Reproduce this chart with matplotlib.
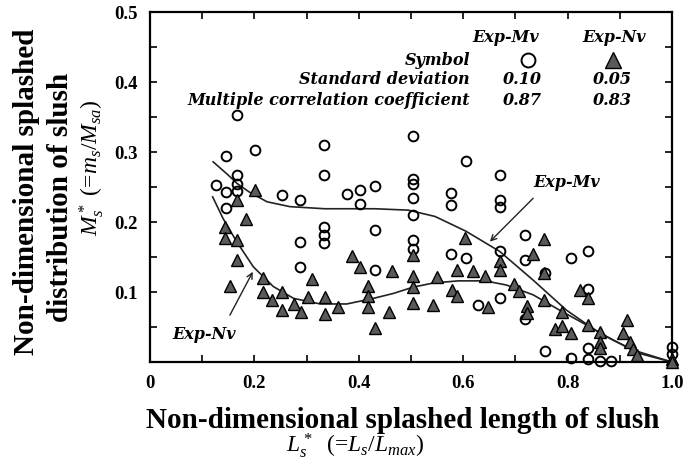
import matplotlib.pyplot as plt
import numpy as np

plt.rcParams['font.family'] = ['Liberation Serif', 'DejaVu Serif']
plt.rcParams['mathtext.fontset'] = 'custom'
plt.rcParams['mathtext.it'] = 'Liberation Serif:italic'
plt.rcParams['mathtext.rm'] = 'Liberation Serif'

# Exp-Mv (open circles), x = L_s*, y = M_s*
mv_x = [0.126, 0.145, 0.145, 0.145, 0.167, 0.167, 0.167, 0.167, 0.201, 0.252,
        0.287, 0.287, 0.287, 0.333, 0.333, 0.333, 0.333, 0.333, 0.377, 0.402,
        0.402, 0.431, 0.431, 0.431, 0.503, 0.503, 0.503, 0.503, 0.503, 0.503,
        0.503, 0.577, 0.577, 0.577, 0.605, 0.605, 0.629, 0.670, 0.670, 0.670,
        0.670, 0.670, 0.718, 0.718, 0.718, 0.757, 0.757, 0.806, 0.806, 0.840,
        0.840, 0.840, 0.840, 0.862, 0.884, 1.0, 1.0]
mv_y = [0.253, 0.294, 0.243, 0.220, 0.353, 0.267, 0.255, 0.245, 0.303, 0.239,
        0.231, 0.172, 0.136, 0.310, 0.267, 0.193, 0.181, 0.170, 0.240, 0.246,
        0.226, 0.252, 0.189, 0.131, 0.323, 0.262, 0.254, 0.234, 0.210, 0.174,
        0.162, 0.242, 0.225, 0.155, 0.287, 0.148, 0.081, 0.267, 0.231, 0.222,
        0.158, 0.091, 0.181, 0.146, 0.062, 0.127, 0.016, 0.149, 0.006, 0.158,
        0.105, 0.020, 0.004, 0.002, 0.002, 0.022, 0.012]

# Exp-Nv (filled triangles)
nv_x = [0.143, 0.143, 0.153, 0.167, 0.167, 0.167, 0.184, 0.201, 0.216, 0.216,
        0.233, 0.252, 0.252, 0.275, 0.290, 0.303, 0.310, 0.335, 0.335, 0.361,
        0.386, 0.403, 0.418, 0.418, 0.418, 0.431, 0.457, 0.464, 0.503, 0.503,
        0.503, 0.503, 0.543, 0.549, 0.578, 0.588, 0.588, 0.603, 0.619, 0.642,
        0.647, 0.670, 0.670, 0.698, 0.706, 0.722, 0.722, 0.734, 0.755, 0.755,
        0.755, 0.775, 0.790, 0.790, 0.806, 0.824, 0.840, 0.840, 0.862, 0.862,
        0.862, 0.913, 0.907, 0.920, 0.926, 0.932, 1.0, 1.0]
nv_y = [0.193, 0.177, 0.108, 0.231, 0.174, 0.146, 0.205, 0.246, 0.120, 0.100,
        0.088, 0.100, 0.074, 0.083, 0.072, 0.093, 0.118, 0.093, 0.068, 0.079,
        0.152, 0.136, 0.109, 0.094, 0.078, 0.048, 0.072, 0.130, 0.153, 0.123,
        0.107, 0.084, 0.081, 0.122, 0.103, 0.131, 0.094, 0.177, 0.130, 0.123,
        0.079, 0.145, 0.131, 0.112, 0.101, 0.080, 0.070, 0.154, 0.176, 0.127,
        0.089, 0.047, 0.072, 0.052, 0.041, 0.103, 0.092, 0.053, 0.043, 0.028,
        0.020, 0.060, 0.042, 0.028, 0.018, 0.010, 0.005, 0.0]

# fitted curves
mv_fit_x = [0.121, 0.147, 0.167, 0.190, 0.224, 0.268, 0.335, 0.431, 0.495, 0.546,
            0.605, 0.670, 0.734, 0.798, 0.862, 0.926, 1.0]
mv_fit_y = [0.286, 0.269, 0.255, 0.243, 0.229, 0.222, 0.219, 0.219, 0.217, 0.208,
            0.187, 0.158, 0.117, 0.074, 0.041, 0.017, 0.0]
nv_fit_x = [0.120, 0.140, 0.166, 0.198, 0.236, 0.275, 0.326, 0.377, 0.428, 0.466,
            0.504, 0.543, 0.591, 0.642, 0.683, 0.734, 0.785, 0.836, 0.888, 0.939, 1.0]
nv_fit_y = [0.236, 0.205, 0.172, 0.136, 0.108, 0.091, 0.083, 0.083, 0.091, 0.098,
            0.107, 0.113, 0.116, 0.116, 0.110, 0.096, 0.074, 0.053, 0.031, 0.012, 0.0]

series_names = ['Exp-Mv', 'Exp-Nv']
std_dev = ['0.10', '0.05']
corr_coef = ['0.87', '0.83']

fig = plt.figure(figsize=(6.99, 4.63), dpi=100)
ax = fig.add_axes([0.2146, 0.218, 0.7468, 0.756])

tri_color = '#5a5a5a'

ax.plot(mv_fit_x, mv_fit_y, color='#222222', lw=1.2, zorder=2)
ax.plot(nv_fit_x, nv_fit_y, color='#222222', lw=1.2, zorder=2)
ax.plot(mv_x, mv_y, 'o', ms=7, mfc='none', mec='black', mew=1.4, clip_on=False, zorder=3)
ax.plot(nv_x, nv_y, '^', ms=8.5, mfc=tri_color, mec='black', mew=1.0, clip_on=False, zorder=3)

ax.set_xlim(0, 1.0)
ax.set_ylim(0, 0.5)
ax.set_xticks(np.arange(0, 1.01, 0.1))
ax.set_xticklabels(['0', '', '0.2', '', '0.4', '', '0.6', '', '0.8', '', '1.0'])
ax.set_yticks(np.arange(0, 0.51, 0.05))
ax.set_yticklabels(['', '', '0.1', '', '0.2', '', '0.3', '', '0.4', '', '0.5'])
ax.tick_params(direction='in', top=True, right=True, length=5, width=1.2,
               labelsize=13.5, pad=9)
for lab in ax.get_xticklabels() + ax.get_yticklabels():
    lab.set_fontweight('bold')
for sp in ax.spines.values():
    sp.set_linewidth(1.6)

# table of symbols / statistics in the top right
tkw = dict(fontsize=11.5, fontweight='bold', fontstyle='italic', family='DejaVu Serif')
ax.text(0.682, 0.463, series_names[0], ha='center', va='center', **tkw)
ax.text(0.889, 0.463, series_names[1], ha='center', va='center', **tkw)
ax.text(0.613, 0.431, 'Symbol', ha='right', va='center', **tkw)
ax.text(0.613, 0.403, 'Standard deviation', ha='right', va='center', **tkw)
ax.text(0.613, 0.374, 'Multiple correlation coefficient', ha='right', va='center', **tkw)
ax.plot([0.724], [0.431], 'o', ms=10, mfc='none', mec='black', mew=1.4)
ax.plot([0.887], [0.431], '^', ms=11, mfc=tri_color, mec='black', mew=1.0)
ax.text(0.713, 0.403, std_dev[0], ha='center', va='center', **tkw)
ax.text(0.885, 0.403, std_dev[1], ha='center', va='center', **tkw)
ax.text(0.713, 0.374, corr_coef[0], ha='center', va='center', **tkw)
ax.text(0.885, 0.374, corr_coef[1], ha='center', va='center', **tkw)

# curve labels with arrows
akw = dict(arrowstyle='->', lw=1.0, color='#222222', shrinkA=0, shrinkB=0)
ax.annotate('', xy=(0.651, 0.172), xytext=(0.734, 0.234), arrowprops=akw)
ax.text(0.799, 0.256, 'Exp-Mv', ha='center', va='center', **tkw)
ax.annotate('', xy=(0.197, 0.129), xytext=(0.153, 0.067), arrowprops=akw)
ax.text(0.103, 0.039, 'Exp-Nv', ha='center', va='center', **tkw)

# axis titles
fig.text(403 / 699, 1 - 420 / 463, 'Non-dimensional splashed length of slush',
         ha='center', va='center', fontsize=21, fontweight='bold')
fig.text(355 / 699, 1 - 446 / 463, r'$L_s^*$  (=$L_s/L_{max}$)',
         ha='center', va='center', fontsize=17)
fig.text(27 / 699, 1 - 192 / 463, 'Non-dimensional splashed',
         ha='center', va='center', rotation=90, fontsize=21, fontweight='bold')
fig.text(61 / 699, 1 - 197 / 463, 'distribution of slush',
         ha='center', va='center', rotation=90, fontsize=21, fontweight='bold')
fig.text(92 / 699, 1 - 168 / 463, r'$M_s^*$ (=$m_s/M_{sa}$)',
         ha='center', va='center', rotation=90, fontsize=17)

fig.savefig('out.png', dpi=100)
